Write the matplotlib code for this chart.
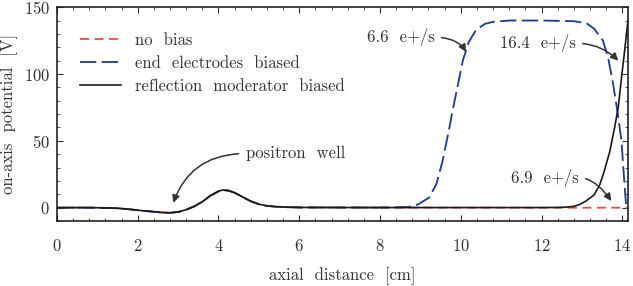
import matplotlib
matplotlib.use("Agg")
import matplotlib.pyplot as plt
from matplotlib.ticker import MultipleLocator

plt.rcParams['font.family'] = 'serif'
plt.rcParams['font.serif'] = ['cmr10', 'DejaVu Serif']
plt.rcParams['mathtext.fontset'] = 'cm'
plt.rcParams['axes.formatter.use_mathtext'] = True

# values (x in cm, potential in V)
x_mod = [0.0, 0.5, 1.0, 1.5, 1.8, 2.1, 2.4, 2.6, 2.8, 3.0, 3.2, 3.4, 3.6, 3.8,
         4.0, 4.1, 4.25, 4.4, 4.6, 4.8, 5.0, 5.2, 5.4, 5.7, 6.0, 8.0, 10.0,
         12.0, 12.4, 12.6, 12.8, 12.95, 13.1, 13.3, 13.44, 13.55, 13.69,
         13.81, 13.9, 13.98, 14.06, 14.14]
v_mod = [0.0, 0.1, 0.0, -0.4, -1.2, -2.2, -3.0, -3.6, -3.8, -3.2, -1.5, 1.0,
         4.5, 9.0, 12.3, 13.2, 12.8, 11.2, 8.0, 4.8, 2.6, 1.4, 0.8, 0.4, 0.2,
         0.1, 0.1, 0.1, 0.2, 0.4, 1.0, 2.5, 5.0, 9.5, 17.0, 27.0, 42.0, 60.0,
         75.0, 97.0, 118.0, 140.0]

x_end = [0.0, 0.5, 1.0, 1.5, 1.8, 2.1, 2.4, 2.6, 2.8, 3.0, 3.2, 3.4, 3.6, 3.8,
         4.0, 4.1, 4.25, 4.4, 4.6, 4.8, 5.0, 5.2, 5.4, 5.7, 6.0, 8.0, 8.7,
         8.95, 9.22, 9.4, 9.55, 9.7, 9.8, 9.95, 10.05, 10.2, 10.38, 10.6, 10.8,
         11.2, 12.0, 12.8, 13.11, 13.3, 13.52, 13.65, 13.77, 13.88, 13.98,
         14.06, 14.1, 14.14]
v_end = [0.0, 0.1, 0.0, -0.4, -1.2, -2.2, -3.0, -3.6, -3.8, -3.2, -1.5, 1.0,
         4.5, 9.0, 12.3, 13.2, 12.8, 11.2, 8.0, 4.8, 2.6, 1.4, 0.8, 0.4, 0.2,
         0.1, 0.5, 2.5, 7.7, 18.0, 35.0, 57.0, 73.0, 95.0, 110.0, 124.0,
         133.0, 137.5, 139.0, 140.0, 140.0, 139.5, 138.0, 134.0, 125.0, 112.0,
         93.0, 72.0, 50.0, 15.0, 0.0, 0.0]

x_none = [0.0, 0.5, 1.0, 1.5, 1.8, 2.1, 2.4, 2.6, 2.8, 3.0, 3.2, 3.4, 3.6,
          3.8, 4.0, 4.1, 4.25, 4.4, 4.6, 4.8, 5.0, 5.2, 5.4, 5.7, 6.0, 8.0,
          10.0, 12.0, 14.14]
v_none = [0.0, 0.1, 0.0, -0.4, -1.2, -2.2, -3.0, -3.6, -3.8, -3.2, -1.5, 1.0,
          4.5, 9.0, 12.3, 13.2, 12.8, 11.2, 8.0, 4.8, 2.6, 1.4, 0.8, 0.4, 0.2,
          0.1, 0.1, 0.0, 0.0]

ink = '#333333'

fig = plt.figure(figsize=(6.33, 2.86), dpi=100)
ax = fig.add_axes([0.090, 0.227, 0.902, 0.748])

ax.plot(x_none, v_none, color='#e8503f', lw=1.3, dashes=(5, 3),
        label='no  bias')
ax.plot(x_end, v_end, color='#1c3a8f', lw=1.3, dashes=(9, 3),
        label='end  electrodes  biased')
ax.plot(x_mod, v_mod, color='#1a1a1a', lw=1.2,
        label='reflection  moderator  biased')

ax.set_xlim(0, 14.14)
ax.set_ylim(-10, 150)
ax.xaxis.set_major_locator(MultipleLocator(2))
ax.xaxis.set_minor_locator(MultipleLocator(0.4))
ax.yaxis.set_major_locator(MultipleLocator(50))
ax.yaxis.set_minor_locator(MultipleLocator(10))
ax.tick_params(which='both', direction='in', top=True, right=True,
               labelsize=12, colors=ink)
ax.tick_params(which='major', length=4, pad=12)
ax.tick_params(axis='y', which='major', pad=5)
ax.tick_params(which='minor', length=2.5)
for s in ax.spines.values():
    s.set_linewidth(1.2)
    s.set_color('#222222')

ax.set_xlabel('axial  distance  [cm]', fontsize=12, color=ink, labelpad=10)
ax.set_ylabel('on-axis  potential  [V]', fontsize=12, color=ink, labelpad=4)

ax.legend(loc='upper left', bbox_to_anchor=(0.04, 0.88), frameon=False,
          fontsize=12, handlelength=2.5, handletextpad=0.84,
          labelspacing=0.45, borderaxespad=0, borderpad=0, labelcolor=ink)

arrow = dict(arrowstyle='-|>', color=ink, lw=1.1,
             mutation_scale=11, shrinkA=3, shrinkB=0)

ax.annotate('positron  well', xy=(2.88, 3.7), xytext=(4.67, 40.5),
            fontsize=12, color=ink, va='center', ha='left',
            arrowprops=dict(arrow, relpos=(0, 0.5),
                            connectionstyle='angle3,angleA=0,angleB=70'))
ax.annotate('6.6  e+/s', xy=(10.13, 116.5), xytext=(9.35, 127.5),
            fontsize=12, color=ink, va='center', ha='right',
            arrowprops=dict(arrow, relpos=(1, 0.5),
                            connectionstyle='angle3,angleA=0,angleB=-60'))
ax.annotate('16.4  e+/s', xy=(13.9, 110), xytext=(12.85, 123),
            fontsize=12, color=ink, va='center', ha='right',
            arrowprops=dict(arrow, relpos=(1, 0.5),
                            connectionstyle='angle3,angleA=0,angleB=-45'))
ax.annotate('6.9  e+/s', xy=(13.73, 5), xytext=(12.92, 22.5),
            fontsize=12, color=ink, va='center', ha='right',
            arrowprops=dict(arrow, relpos=(1, 0.5),
                            connectionstyle='angle3,angleA=0,angleB=-55'))

fig.savefig('out.png', dpi=100)
